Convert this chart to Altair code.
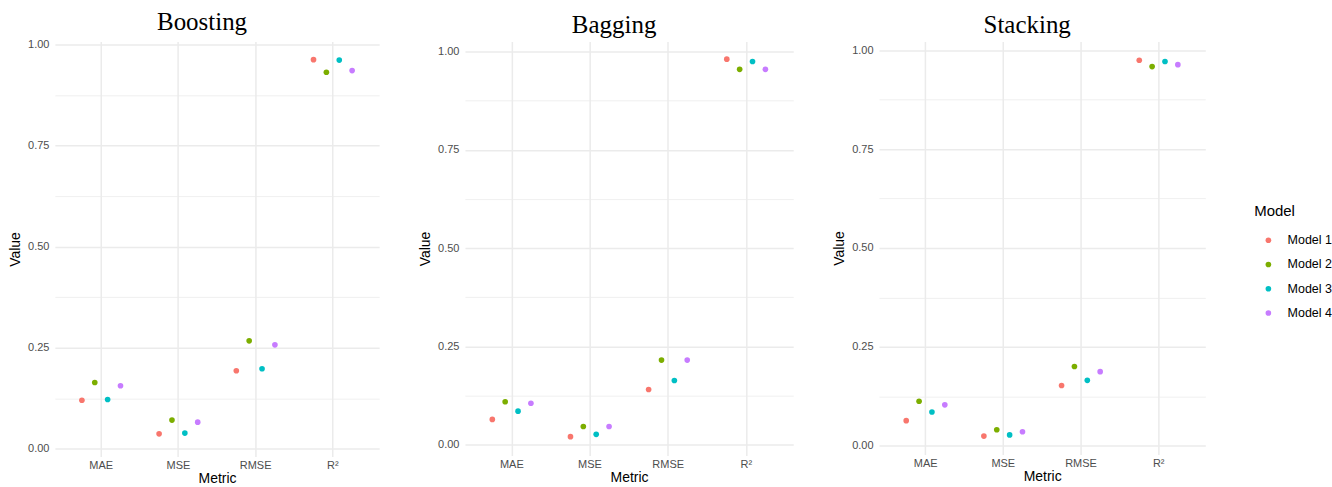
import altair as alt
import pandas as pd

metrics = ["MAE", "MSE", "RMSE", "R²"]
models = ["Model 1", "Model 2", "Model 3", "Model 4"]
colors = ["#F8766D", "#7CAE00", "#00BFC4", "#C77CFF"]

# Values per model, in metric order MAE, MSE, RMSE, R²
boosting_model1 = [0.120, 0.037, 0.193, 0.962]
boosting_model2 = [0.164, 0.071, 0.267, 0.931]
boosting_model3 = [0.122, 0.039, 0.198, 0.961]
boosting_model4 = [0.156, 0.066, 0.257, 0.935]

bagging_model1 = [0.064, 0.020, 0.140, 0.981]
bagging_model2 = [0.109, 0.046, 0.215, 0.955]
bagging_model3 = [0.085, 0.026, 0.163, 0.975]
bagging_model4 = [0.105, 0.046, 0.215, 0.955]

stacking_model1 = [0.063, 0.024, 0.152, 0.975]
stacking_model2 = [0.112, 0.040, 0.200, 0.959]
stacking_model3 = [0.085, 0.027, 0.165, 0.972]
stacking_model4 = [0.103, 0.035, 0.187, 0.964]

y_ticks = [0, 0.125, 0.25, 0.375, 0.5, 0.625, 0.75, 0.875, 1.0]

FONT = "Liberation Sans"


def make_df(series):
    rows = []
    for model, vals in zip(models, series):
        for metric, v in zip(metrics, vals):
            rows.append({"Metric": metric, "Model": model, "Value": v})
    return pd.DataFrame(rows)


def panel(name, series, width, height, ydomain):
    df = make_df(series)
    return (
        alt.Chart(
            df,
            title=alt.Title(
                name,
                font="Liberation Serif",
                fontSize=25,
                fontWeight="normal",
                color="black",
                anchor="middle",
                offset=3,
                dx=-15,
            ),
        )
        .mark_circle(size=32, opacity=1)
        .encode(
            x=alt.X(
                "Metric:N",
                sort=metrics,
                scale=alt.Scale(domain=metrics, paddingInner=0.5, paddingOuter=0.35),
                axis=alt.Axis(
                    title="Metric",
                    labelAngle=0,
                    bandPosition=0.5,
                    grid=True,
                    gridColor="#EBEBEB",
                    gridWidth=1.5,
                    domain=False,
                    ticks=False,
                    labelColor="#4D4D4D",
                    labelFontSize=11,
                    labelFont=FONT,
                    labelPadding=3,
                    titleFont=FONT,
                    titleFontSize=14,
                    titleFontWeight="normal",
                    titleColor="black",
                    titlePadding=1,
                ),
            ),
            xOffset=alt.XOffset(
                "Model:N",
                sort=models,
                scale=alt.Scale(domain=models, paddingInner=0, paddingOuter=0),
            ),
            y=alt.Y(
                "Value:Q",
                scale=alt.Scale(domain=ydomain, nice=False, zero=False),
                axis=alt.Axis(
                    title="Value",
                    values=y_ticks,
                    labelExpr="datum.value % 0.25 === 0 ? format(datum.value, '.2f') : ''",
                    grid=True,
                    gridColor="#EBEBEB",
                    gridWidth={"condition": {"test": "datum.value % 0.25 === 0", "value": 1.5}, "value": 0.8},
                    domain=False,
                    ticks=False,
                    labelColor="#4D4D4D",
                    labelFontSize=11,
                    labelFont=FONT,
                    labelPadding=6,
                    titleFont=FONT,
                    titleFontSize=14,
                    titleFontWeight="normal",
                    titleColor="black",
                    titlePadding=5,
                ),
            ),
            color=alt.Color(
                "Model:N",
                sort=models,
                scale=alt.Scale(domain=models, range=colors),
                legend=alt.Legend(title="Model"),
            ),
        )
        .properties(width=width, height=height)
    )


p1 = panel("Boosting", [boosting_model1, boosting_model2, boosting_model3, boosting_model4], 325, 416, [-0.019, 1.007])
p2 = panel("Bagging", [bagging_model1, bagging_model2, bagging_model3, bagging_model4], 329, 415, [-0.028, 1.026])
p3 = panel("Stacking", [stacking_model1, stacking_model2, stacking_model3, stacking_model4], 327, 414, [-0.0227, 1.0227])

chart = (
    alt.hconcat(p1, p2, p3, spacing=39)
    .properties(padding={"left": 8, "top": 9, "right": 0, "bottom": 0}, background="white")
    .configure_view(strokeWidth=0)
    .configure_legend(
        orient="none",
        legendX=1202,
        legendY=163,
        titleFont=FONT,
        titleFontSize=15,
        titleFontWeight="normal",
        titleColor="black",
        titlePadding=15,
        labelFont=FONT,
        labelFontSize=12.5,
        labelColor="black",
        labelOffset=13,
        symbolType="circle",
        symbolSize=32,
        symbolStrokeWidth=0,
        symbolOffset=8,
        rowPadding=11.3,
        padding=0,
    )
)

chart.save("out.html", embed_options={"renderer": "svg", "actions": False})
